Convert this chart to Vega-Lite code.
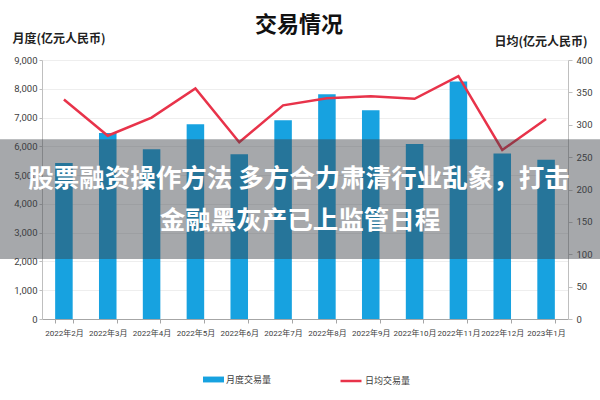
{
  "$schema": "https://vega.github.io/schema/vega-lite/v6.json",
  "width": 526,
  "height": 259,
  "autosize": {"type": "none"},
  "padding": {"left": 42, "top": 60, "right": 32, "bottom": 81},
  "background": "white",
  "title": {
    "text": "交易情况",
    "font": "Noto Sans CJK SC",
    "fontSize": 22,
    "fontWeight": "bold",
    "color": "#111111",
    "anchor": "middle",
    "frame": "group",
    "offset": -5,
    "dx": -6
  },
  "config": {
    "view": {"stroke": null},
    "font": "Noto Sans CJK SC",
    "axis": {
      "labelFont": "Liberation Sans Narrow, Roboto, Noto Sans CJK SC",
      "labelFontSize": 9.5,
      "labelColor": "#404040",
      "domainColor": "#bfbfbf",
      "tickColor": "#bfbfbf",
      "titleFont": "Noto Sans CJK SC"
    }
  },
  "datasets": {
    "trade": [
      {"month": "2022年2月", "monthly": 5420, "daily": 339},
      {"month": "2022年3月", "monthly": 6460, "daily": 283},
      {"month": "2022年4月", "monthly": 5900, "daily": 311},
      {"month": "2022年5月", "monthly": 6765, "daily": 356},
      {"month": "2022年6月", "monthly": 5725, "daily": 273},
      {"month": "2022年7月", "monthly": 6910, "daily": 330},
      {"month": "2022年8月", "monthly": 7810, "daily": 341},
      {"month": "2022年9月", "monthly": 7255, "daily": 344},
      {"month": "2022年10月", "monthly": 6080, "daily": 340},
      {"month": "2022年11月", "monthly": 8255, "daily": 375},
      {"month": "2022年12月", "monthly": 5755, "daily": 261},
      {"month": "2023年1月", "monthly": 5530, "daily": 309}
    ],
    "banner": [
      {"line1": "股票融资操作方法 多方合力肃清行业乱象，打击", "line2": "金融黑灰产已上监管日程"}
    ]
  },
  "layer": [
    {
      "data": {"name": "trade"},
      "mark": {"type": "bar"},
      "encoding": {
        "x": {
          "field": "month",
          "type": "ordinal",
          "sort": null,
          "scale": {"type": "band", "paddingInner": 0.6, "paddingOuter": 0.3},
          "axis": {
            "title": null,
            "labelAngle": 0,
            "labelFontSize": 8,
            "tickBand": "extent",
            "tickSize": 4,
            "labelPadding": 6,
            "domainColor": "#a6a6a6",
            "tickColor": "#a6a6a6",
            "grid": false
          }
        },
        "y": {
          "field": "monthly",
          "type": "quantitative",
          "scale": {"domain": [0, 9000], "nice": false},
          "axis": {
            "values": [0, 1000, 2000, 3000, 4000, 5000, 6000, 7000, 8000, 9000],
            "format": ",.0f",
            "tickSize": 3,
            "labelPadding": 2,
            "grid": true,
            "gridColor": "#eeeeee",
            "title": "月度(亿元人民币)",
            "titleAngle": 0,
            "titleAlign": "left",
            "titleBaseline": "middle",
            "titleX": -30,
            "titleY": -22,
            "titleFontSize": 12,
            "titleFontWeight": "bold",
            "titleColor": "#222222"
          }
        },
        "color": {
          "datum": "月度交易量",
          "scale": {"range": ["#17a2e0"]},
          "legend": {
            "orient": "none",
            "legendX": 161,
            "legendY": 309,
            "title": null,
            "padding": 0,
            "symbolType": "M-1,-0.28L1,-0.28L1,0.28L-1,0.28Z",
            "symbolSize": 441,
            "symbolStrokeWidth": 0,
            "labelOffset": 2,
            "labelFontSize": 9,
            "labelColor": "#404040",
            "labelFont": "Noto Sans CJK SC"
          }
        }
      }
    },
    {
      "data": {"name": "trade"},
      "mark": {"type": "line", "strokeWidth": 2.5},
      "encoding": {
        "x": {
          "field": "month",
          "type": "ordinal",
          "sort": null,
          "scale": {"type": "band", "paddingInner": 0.6, "paddingOuter": 0.3},
          "axis": null
        },
        "y": {
          "field": "daily",
          "type": "quantitative",
          "scale": {"domain": [0, 400], "nice": false},
          "axis": {
            "orient": "right",
            "values": [0, 50, 100, 150, 200, 250, 300, 350, 400],
            "tickSize": 4,
            "labelPadding": 4,
            "grid": false,
            "title": "日均(亿元人民币)",
            "titleAngle": 0,
            "titleAlign": "right",
            "titleBaseline": "middle",
            "titleX": 19,
            "titleY": -19,
            "titleFontSize": 12,
            "titleFontWeight": "bold",
            "titleColor": "#222222"
          }
        },
        "stroke": {
          "datum": "日均交易量",
          "scale": {"range": ["#e8334a"]},
          "legend": {
            "orient": "none",
            "legendX": 297,
            "legendY": 309,
            "title": null,
            "padding": 0,
            "symbolType": "stroke",
            "symbolSize": 441,
            "symbolStrokeWidth": 2.5,
            "labelOffset": 2,
            "labelFontSize": 9,
            "labelColor": "#404040",
            "labelFont": "Noto Sans CJK SC"
          }
        }
      }
    },
    {
      "data": {"name": "banner"},
      "mark": {"type": "rect", "fill": "#3a3d44", "fillOpacity": 0.45, "strokeWidth": 0},
      "encoding": {
        "x": {"datum": 0, "type": "quantitative", "scale": {"domain": [0.07, 0.94667], "nice": false, "zero": false}, "axis": null},
        "x2": {"datum": 1},
        "y": {"datum": 6250, "type": "quantitative", "scale": {"domain": [0, 9000], "nice": false}, "axis": null},
        "y2": {"datum": 2085}
      }
    },
    {
      "data": {"name": "banner"},
      "mark": {"type": "text", "font": "Noto Sans CJK SC", "fontSize": 25.5, "fontWeight": "bold", "color": "#ffffff", "baseline": "middle", "align": "center", "dx": -6},
      "encoding": {
        "text": {"field": "line1"},
        "y": {"datum": 4861, "type": "quantitative", "scale": {"domain": [0, 9000], "nice": false}, "axis": null}
      }
    },
    {
      "data": {"name": "banner"},
      "mark": {"type": "text", "font": "Noto Sans CJK SC", "fontSize": 25.5, "fontWeight": "bold", "color": "#ffffff", "baseline": "middle", "align": "center", "dx": -5},
      "encoding": {
        "text": {"field": "line2"},
        "y": {"datum": 3403, "type": "quantitative", "scale": {"domain": [0, 9000], "nice": false}, "axis": null}
      }
    }
  ],
  "resolve": {"scale": {"x": "independent", "y": "independent", "color": "independent", "stroke": "independent"}}
}
